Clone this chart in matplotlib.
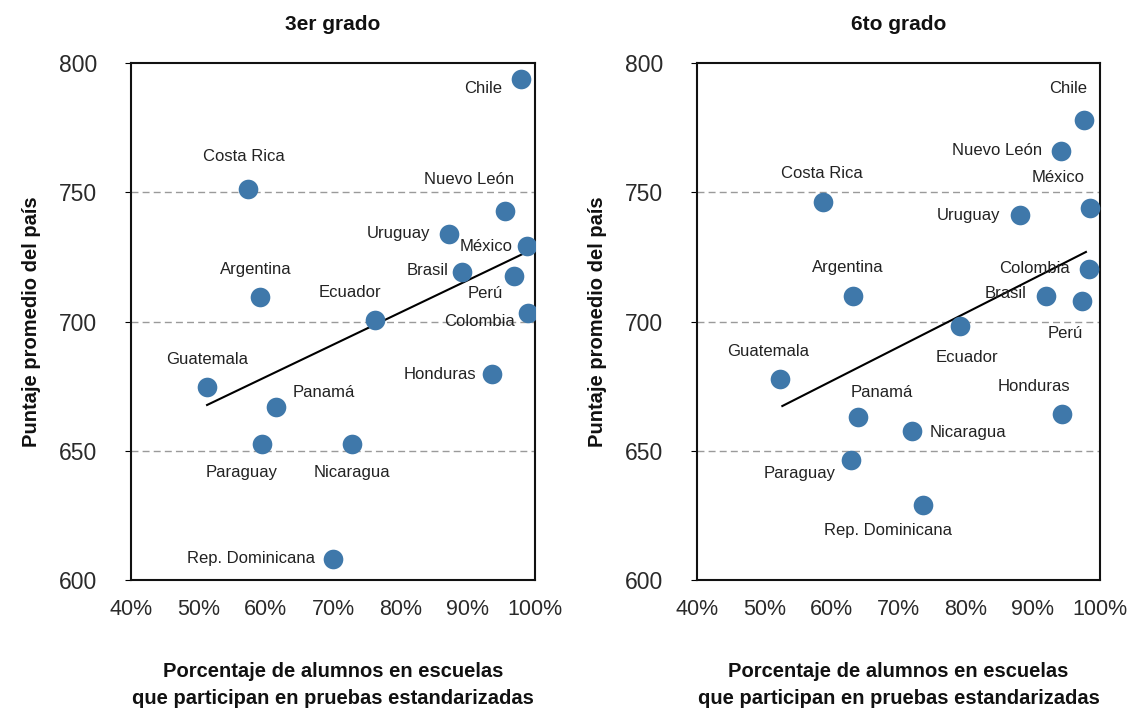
import matplotlib
matplotlib.use("Agg")
import matplotlib.pyplot as plt
from matplotlib.ticker import FuncFormatter

plt.rcParams['font.family'] = ['Liberation Sans', 'DejaVu Sans']

countries = ["Chile", "Costa Rica", "Nuevo León", "Uruguay", "México", "Brasil", "Perú",
             "Argentina", "Ecuador", "Colombia", "Honduras", "Guatemala", "Panamá",
             "Paraguay", "Nicaragua", "Rep. Dominicana"]

# 3er grado
pct_3 = [97.9, 57.4, 95.5, 87.2, 98.8, 89.2, 96.9, 59.2, 76.2, 99.0, 93.6, 51.3, 61.5, 59.5, 72.8, 70.0]
score_3 = [793.8, 751.3, 742.8, 733.9, 729.2, 719.2, 717.6, 709.5, 700.6, 703.3, 679.7, 674.7, 666.9, 652.6, 652.6, 608.1]
trend_x_3 = [51.3, 98.8]
trend_y_3 = [667.7, 726.9]

# 6to grado
pct_6 = [97.6, 58.8, 94.2, 88.1, 98.5, 92.0, 97.3, 63.2, 79.2, 98.4, 94.3, 52.4, 64.0, 62.9, 72.0, 73.6]
score_6 = [778.0, 746.2, 766.0, 741.2, 743.9, 709.9, 707.9, 709.9, 698.3, 720.3, 664.2, 677.8, 663.1, 646.4, 657.7, 629.0]
trend_x_6 = [52.7, 97.9]
trend_y_6 = [667.3, 726.9]

x_ticks = [40, 50, 60, 70, 80, 90, 100]
y_ticks = [600, 650, 700, 750, 800]
grid_vals = [650, 700, 750]

# label offsets in pixels (dx, dy; dy positive = up) and alignment
offs_3 = {
    "Chile": (-19, -9, 'right'), "Costa Rica": (-4, 32, 'center'), "Nuevo León": (-36, 31, 'center'),
    "Uruguay": (-19, 0, 'right'), "México": (-14, 0, 'right'), "Brasil": (-14, 1, 'right'),
    "Perú": (-29, -17, 'center'), "Argentina": (-4, 27, 'center'), "Ecuador": (-25, 27, 'center'),
    "Colombia": (-13, -9, 'right'), "Honduras": (-16, -1, 'right'), "Guatemala": (0, 27, 'center'),
    "Panamá": (17, 15, 'left'), "Paraguay": (-21, -28, 'center'), "Nicaragua": (0, -28, 'center'),
    "Rep. Dominicana": (-18, 1, 'right'),
}
offs_6 = {
    "Chile": (-16, 31, 'center'), "Costa Rica": (-1, 29, 'center'), "Nuevo León": (-19, 0, 'right'),
    "Uruguay": (-20, 0, 'right'), "México": (-32, 31, 'center'), "Brasil": (-20, 2, 'right'),
    "Perú": (-17, -32, 'center'), "Argentina": (-5, 28, 'center'), "Ecuador": (7, -32, 'center'),
    "Colombia": (-19, 1, 'right'), "Honduras": (-28, 28, 'center'), "Guatemala": (-12, 27, 'center'),
    "Panamá": (24, 24, 'center'), "Paraguay": (-15, -13, 'right'), "Nicaragua": (18, -2, 'left'),
    "Rep. Dominicana": (-35, -25, 'center'),
}

fig = plt.figure(figsize=(11.33, 7.17), dpi=100)
ax1 = fig.add_axes([0.1156, 0.1911, 0.3566, 0.7210])
ax2 = fig.add_axes([0.6152, 0.1911, 0.3557, 0.7210])

dot_color = "#3F78AA"
text_color = "#222222"

panels = [
    (ax1, pct_3, score_3, trend_x_3, trend_y_3, offs_3, "3er grado"),
    (ax2, pct_6, score_6, trend_x_6, trend_y_6, offs_6, "6to grado"),
]

for ax, xs, ys, tx, ty, offs, title in panels:
    ax.set_xlim(40, 100)
    ax.set_ylim(600, 800)
    for g in grid_vals:
        ax.axhline(g, color="#9a9a9a", linestyle=(0, (5, 3)), linewidth=1.0, zorder=1)
    ax.plot(tx, ty, color="black", linewidth=1.5, zorder=2)
    ax.scatter(xs, ys, s=200, color=dot_color, zorder=3, linewidths=0)
    for name, x, y in zip(countries, xs, ys):
        dx, dy, ha = offs[name]
        ax.annotate(name, (x, y), xytext=(dx, dy), textcoords='offset pixels',
                    ha=ha, va='center', fontsize=12, color=text_color, zorder=4)
    ax.set_xticks(x_ticks)
    ax.set_yticks(y_ticks)
    ax.xaxis.set_major_formatter(FuncFormatter(lambda v, p: f"{int(v)}%"))
    ax.tick_params(axis='x', length=0, pad=14, labelsize=15.5, labelcolor="#2a2a2a")
    ax.tick_params(axis='y', length=4, direction='out', pad=48, labelsize=16.5, labelcolor="#2a2a2a")
    for lab in ax.get_yticklabels():
        lab.set_horizontalalignment('left')
    for sp in ax.spines.values():
        sp.set_linewidth(1.5)
        sp.set_color("#111111")
    ax.set_title(title, fontsize=15, fontweight='bold', pad=24, color="#111111")
    ax.set_ylabel("Puntaje promedio del país", fontsize=14.5, fontweight='bold', labelpad=13, color="#111111")
    ax.set_xlabel("Porcentaje de alumnos en escuelas\nque participan en pruebas estandarizadas",
                  fontsize=14.5, fontweight='bold', labelpad=30, color="#111111", linespacing=1.5)

fig.savefig("out.png", dpi=100)
